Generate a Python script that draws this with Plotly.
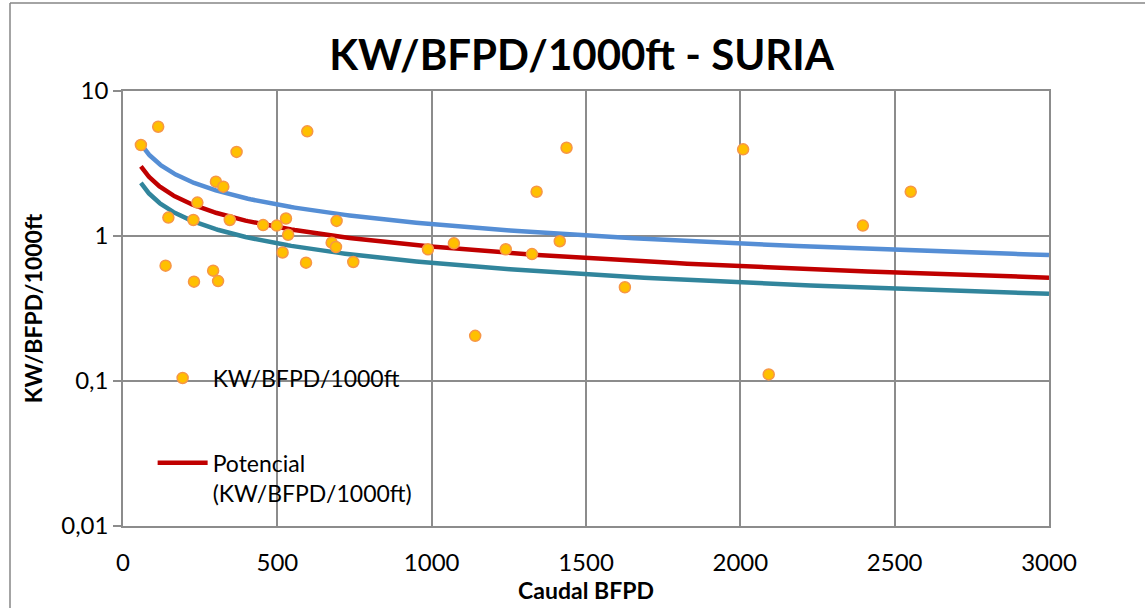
import numpy as np
import plotly.graph_objects as go

# Scatter data (Caudal BFPD vs KW/BFPD/1000ft)
caudal_bfpd = [58, 114, 368, 597, 301, 325, 241, 147, 228, 346, 454, 498, 528, 535,
               692, 676, 690, 517, 593, 746, 138, 292, 230, 308, 988, 1072, 1240,
               1325, 1415, 1437, 1340, 1141, 1626, 2009, 2092, 2397, 2552]
kw_bfpd_1000ft = [4.24, 5.67, 3.80, 5.27, 2.37, 2.19, 1.70, 1.34, 1.29, 1.29, 1.19, 1.18,
                  1.32, 1.02, 1.27, 0.90, 0.84, 0.77, 0.655, 0.662, 0.624, 0.577, 0.484,
                  0.489, 0.81, 0.89, 0.81, 0.75, 0.92, 4.06, 2.02, 0.205, 0.443, 3.96,
                  0.111, 1.18, 2.02]

# Power trendline coefficients y = a * x^b
trend_names = ["Potencial (KW/BFPD/1000ft)", "upper", "lower"]
trend_a = [18.65, 26.3, 14.2]
trend_b = [-0.448, -0.446, -0.446]
trend_x_range = [58, 3000]

x_ticks = [0, 500, 1000, 1500, 2000, 2500, 3000]
y_tickvals = [0.01, 0.1, 1, 10]
y_ticktext = ["0,01", "0,1", "1", "10"]

FONT = "Lato"
GRID = "#8c8c8c"

fig = go.Figure()

xs = np.geomspace(trend_x_range[0], trend_x_range[1], 200)
curve_colors = ["#C00000", "#558ED5", "#31859C"]
# draw upper and lower first, red on top
for i in [1, 2, 0]:
    ys = trend_a[i] * xs ** trend_b[i]
    fig.add_trace(go.Scatter(
        x=xs, y=ys, mode="lines",
        name="Potencial<br>(KW/BFPD/1000ft)" if i == 0 else trend_names[i],
        line=dict(color=curve_colors[i], width=4.5),
        showlegend=(i == 0), legendrank=2, legendgroup="g2" if i == 0 else None,
        hoverinfo="skip",
    ))

fig.add_trace(go.Scatter(
    x=caudal_bfpd, y=kw_bfpd_1000ft, mode="markers",
    name="KW/BFPD/1000ft",
    marker=dict(size=11, color="#FFC000", line=dict(color="#F79646", width=1.5)),
    legendrank=1, legendgroup="g1",
))

fig.update_layout(
    width=1145, height=608,
    margin=dict(l=123, r=96, t=91, b=82),
    paper_bgcolor="white", plot_bgcolor="white",
    font=dict(family=FONT, color="black", size=24),
    title=dict(text="<b>KW/BFPD/1000ft - SURIA</b>", x=0.508, xref="container",
               xanchor="center", y=1 - 55 / 608, yref="container", yanchor="middle",
               font=dict(family=FONT, size=42, color="black")),
    legend=dict(x=0.032, y=0.3896, xanchor="left", yanchor="top",
                bgcolor="rgba(0,0,0,0)", font=dict(family=FONT, size=23),
                traceorder="grouped", tracegroupgap=52, valign="top", itemwidth=50),
    showlegend=True,
)

fig.update_xaxes(
    range=[0, 3000], tickvals=x_ticks, showgrid=True, gridcolor=GRID, gridwidth=1.5,
    showline=True, linecolor=GRID, linewidth=1.5, mirror=True, ticks="",
    zeroline=False, tickfont=dict(family=FONT, size=24), ticklabelstandoff=14,
    automargin=False,
    title=dict(text="<b>Caudal BFPD</b>", font=dict(family=FONT, size=23), standoff=7),
)
fig.update_yaxes(
    type="log", range=[-2, 1], tickvals=y_tickvals, ticktext=y_ticktext,
    showgrid=True, gridcolor=GRID, gridwidth=1.5,
    showline=True, linecolor=GRID, linewidth=1.5, mirror=True,
    ticks="outside", ticklen=8, tickcolor=GRID, tickwidth=1.5,
    zeroline=False, tickfont=dict(family=FONT, size=24), automargin=False,
    title=dict(text="<b>KW/BFPD/1000ft</b>", font=dict(family=FONT, size=23), standoff=12),
)

# outer chart border (left and top edges visible)
fig.add_shape(type="line", xref="paper", yref="paper",
              x0=(10 - 123) / 926, x1=(10 - 123) / 926, y0=-0.3, y1=(526 - 3) / 435,
              line=dict(color="#868686", width=1.5))
fig.add_shape(type="line", xref="paper", yref="paper",
              x0=(10 - 123) / 926, x1=1.2, y0=(526 - 3) / 435, y1=(526 - 3) / 435,
              line=dict(color="#868686", width=1.5))

fig.write_html("out.html")
